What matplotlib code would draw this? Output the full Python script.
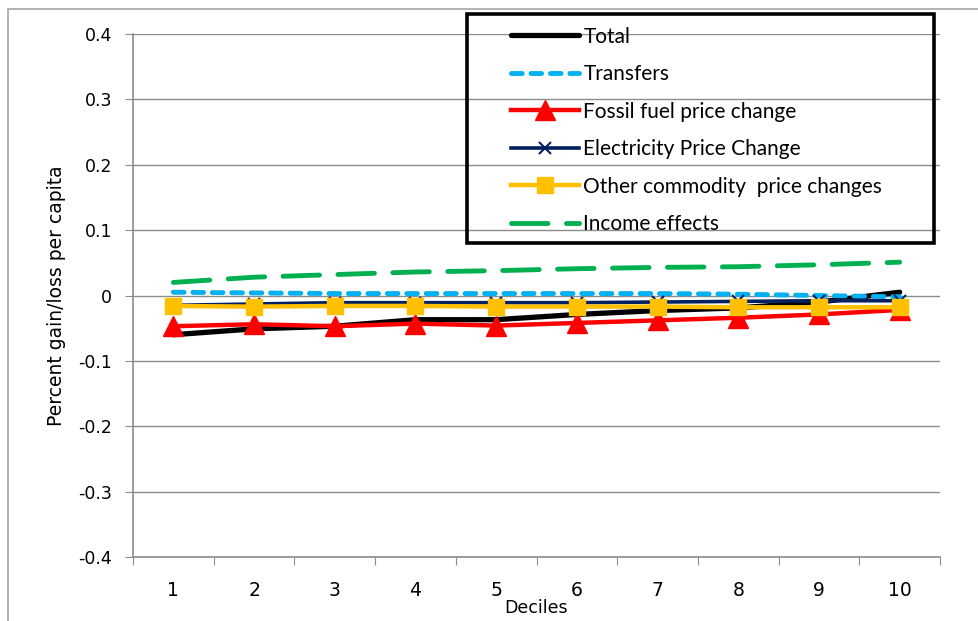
"""distributional effects by income decile"""
import matplotlib.pyplot as plt
from matplotlib.patches import Rectangle
import numpy as np

plt.rcParams['font.family'] = ['DejaVu Sans']

deciles = [1, 2, 3, 4, 5, 6, 7, 8, 9, 10]

total = [-0.060, -0.051, -0.047, -0.037, -0.037, -0.029, -0.023, -0.019, -0.010, 0.005]
transfers = [0.005, 0.004, 0.003, 0.003, 0.003, 0.003, 0.003, 0.002, 0.000, -0.002]
fossil = [-0.047, -0.044, -0.047, -0.043, -0.046, -0.042, -0.038, -0.034, -0.029, -0.022]
electricity = [-0.015, -0.013, -0.011, -0.011, -0.011, -0.011, -0.010, -0.009, -0.008, -0.008]
other = [-0.016, -0.017, -0.016, -0.016, -0.017, -0.017, -0.017, -0.018, -0.018, -0.018]
income = [0.020, 0.028, 0.032, 0.036, 0.038, 0.041, 0.043, 0.044, 0.047, 0.051]

series_names = ['Total', 'Transfers', 'Fossil fuel price change',
                'Electricity Price Change', 'Other commodity  price changes',
                'Income effects']

fig = plt.figure(figsize=(9.79, 6.21), dpi=100)
ax = fig.add_axes([0.1359, 0.1031, 0.8243, 0.8421])

grid_col = '#8c8c8c'

ax.plot(deciles, total, color='black', lw=3.8, solid_capstyle='round',
        label=series_names[0])
ax.plot(deciles, transfers, color='#00B0F0', lw=3.5, dashes=(2.2, 1.8),
        dash_capstyle='round', label=series_names[1])
ax.plot(deciles, fossil, color='#FF0000', lw=3.2, marker='^', ms=14,
        label=series_names[2])
ax.plot(deciles, electricity, color='#002060', lw=2.6, marker='x', ms=8,
        mew=1.5, label=series_names[3])
ax.plot(deciles, other, color='#FFC000', lw=3.2, marker='s', ms=11,
        label=series_names[4])
ax.plot(deciles, income, color='#00B050', lw=3.5, dashes=(7.5, 3.8),
        dash_capstyle='round', label=series_names[5])

ax.set_xlim(0.5, 10.5)
ax.set_ylim(-0.4, 0.4)
yt = np.round(np.arange(-0.4, 0.41, 0.1), 1)
ax.set_yticks(yt)
ax.set_yticklabels(['0' if v == 0 else f'{v:.1f}' for v in yt])
ax.yaxis.grid(True, color=grid_col, lw=1)
ax.set_axisbelow(True)

# category ticks between deciles, labels at the centres
ax.set_xticks(np.arange(0.5, 11, 1))
ax.set_xticklabels([])
ax.set_xticks(deciles, minor=True)
ax.set_xticklabels([str(d) for d in deciles], minor=True)
ax.tick_params(axis='x', which='minor', length=0, pad=17.5, labelsize=13.5)
ax.tick_params(axis='x', which='major', length=6, color=grid_col)
ax.tick_params(axis='y', length=6, color=grid_col, labelsize=12.5, pad=9)

for side in ['top', 'right']:
    ax.spines[side].set_visible(False)
for side in ['left', 'bottom']:
    ax.spines[side].set_color(grid_col)
    ax.spines[side].set_linewidth(1.2)

ax.set_ylabel('Percent gain/loss per capita', fontsize=13.5)
ax.yaxis.set_label_coords(-0.083, 0.5)
ax.set_xlabel('Deciles', fontsize=12.5)
ax.xaxis.set_label_coords(0.5, -0.080)

leg = fig.legend(loc='upper left', bbox_to_anchor=(0.522, 0.957),
                 frameon=False, prop={'family': 'Lato', 'size': 15},
                 handlelength=3.27, handletextpad=0.2, labelspacing=0.84,
                 borderaxespad=0, borderpad=0)

# legend frame
fig.patches.append(Rectangle((0.4775, 0.6087), 0.4765, 0.3688,
                             transform=fig.transFigure, fill=False,
                             ec='black', lw=2.6, zorder=5))
# outer chart border
fig.patches.append(Rectangle((8 / 979, -0.1), 1.2, 1 - 9 / 621 + 0.1,
                             transform=fig.transFigure, fill=False,
                             ec='#a6a6a6', lw=1.2, clip_on=False))

fig.savefig('out.png', dpi=100)
